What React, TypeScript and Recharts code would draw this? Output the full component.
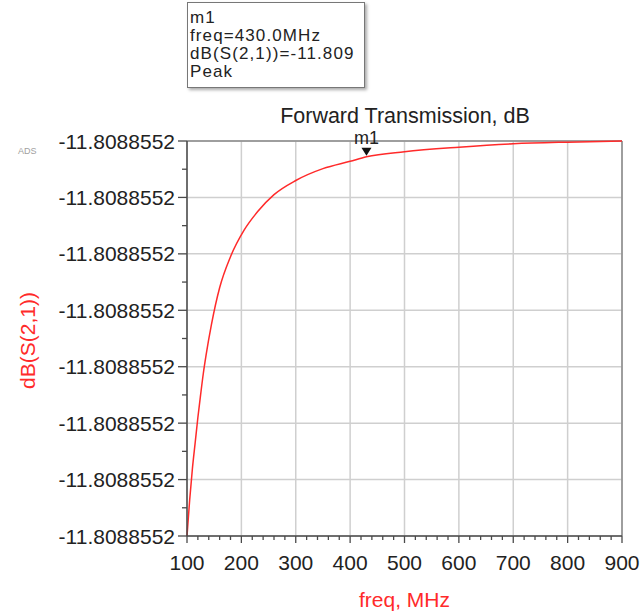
import React from "react";
import { LineChart, Line, XAxis, YAxis, CartesianGrid, ReferenceDot, ReferenceLine } from "recharts";

// frequency sweep, MHz
const freqMHz = [100, 105, 110, 115, 120, 125, 130, 135, 145, 160, 180, 205, 230, 260, 300, 350, 400, 430, 500, 600, 700, 800, 900];
// dB(S(2,1)) read as position on the axis, in tick steps above the lowest tick
// (every tick on the plot is labelled -11.8088552, the spread is below display precision)
const s21Steps = [0, 0.65, 1.2, 1.65, 2.1, 2.5, 2.88, 3.2, 3.75, 4.4, 4.95, 5.42, 5.75, 6.05, 6.3, 6.51, 6.64, 6.72, 6.81, 6.89, 6.95, 6.98, 7.0];

const xMajorTicks = [100, 200, 300, 400, 500, 600, 700, 800, 900];
const yTickLabels = [
  "-11.8088552",
  "-11.8088552",
  "-11.8088552",
  "-11.8088552",
  "-11.8088552",
  "-11.8088552",
  "-11.8088552",
  "-11.8088552",
];

const markerName = "m1";
const markerFreq = 430;
const markerFreqLabel = "430.0MHz";
const markerValueLabel = "-11.809";
const markerKind = "Peak";

const data = freqMHz.map((f, i) => ({ freq: f, s21: s21Steps[i] }));
const yMajor = yTickLabels.map((_, i) => i);
const yAllTicks = yMajor.flatMap((v) => (v < yMajor.length - 1 ? [v, v + 0.5] : [v]));
const xAllTicks: number[] = [];
for (let f = 100; f <= 900; f += 20) xAllTicks.push(f);

const FONT = "'Liberation Sans', Arial, sans-serif";
const AXIS = "#4a4a4a";
const GRID = "#cfcfcf";
const RED = "#ff2a2a";

const XTick = (props: any) => {
  const { x, y, payload } = props;
  const major = payload.value % 100 === 0;
  return (
    <g>
      <line x1={x} x2={x} y1={y} y2={y + (major ? 7 : 4)} stroke={AXIS} strokeWidth={1.3} />
      {major && (
        <text x={x} y={y + 34} textAnchor="middle" fontSize={21} fontFamily={FONT} fill="#222">
          {payload.value}
        </text>
      )}
    </g>
  );
};

const YTick = (props: any) => {
  const { x, y, payload } = props;
  const v = payload.value;
  const major = Number.isInteger(v);
  return (
    <g>
      <line x1={x - (major ? 9 : 5)} x2={x} y1={y} y2={y} stroke={AXIS} strokeWidth={1.3} />
      {major && (
        <text x={x - 12} y={y} dy="0.36em" textAnchor="end" fontSize={21} fontFamily={FONT} fill="#222">
          {yTickLabels[v]}
        </text>
      )}
    </g>
  );
};

const MarkerShape = (props: any) => {
  const { cx, cy } = props;
  return (
    <g>
      <polygon points={`${cx - 5},${cy - 9} ${cx + 5},${cy - 9} ${cx},${cy - 1}`} fill="#111" />
      <text x={cx} y={cy - 19} dy="0.36em" textAnchor="middle" fontSize={18} fontFamily={FONT} fill="#222">
        {markerName}
      </text>
    </g>
  );
};

const YLabel = (props: any) => {
  const vb = props.viewBox;
  const cx = vb.x + 27;
  const cy = vb.y + vb.height / 2 + 2;
  return (
    <text x={cx} y={cy} transform={`rotate(-90 ${cx} ${cy})`} dy="0.36em" textAnchor="middle" fontSize={21} fontFamily={FONT} fill={RED}>
      dB(S(2,1))
    </text>
  );
};

export default function App() {
  const markerY = data.find((d) => d.freq === markerFreq)?.s21 ?? 0;
  return (
    <div style={{ position: "absolute", left: 0, top: 0, width: 640, height: 615, background: "#fff", fontFamily: FONT }}>
      <LineChart width={640} height={615} data={data} margin={{ top: 141, right: 18, bottom: 0, left: 0 }}>
        <CartesianGrid stroke={GRID} strokeWidth={1.5} horizontalValues={yMajor} verticalValues={xMajorTicks} />
        <XAxis
          dataKey="freq"
          type="number"
          domain={[100, 900]}
          ticks={xAllTicks}
          interval={0}
          tick={<XTick />}
          tickLine={false}
          tickSize={0}
          tickMargin={0}
          height={79}
          axisLine={{ stroke: AXIS, strokeWidth: 1.5 }}
          label={{ value: "freq, MHz", position: "insideBottom", offset: 8, fill: RED, fontSize: 21, fontFamily: FONT }}
        />
        <YAxis
          type="number"
          domain={[0, 7]}
          ticks={yAllTicks}
          interval={0}
          tick={<YTick />}
          tickLine={false}
          tickSize={0}
          tickMargin={0}
          width={187}
          axisLine={{ stroke: AXIS, strokeWidth: 1.5 }}
          label={<YLabel />}
        />
        <ReferenceLine y={7} stroke="#8a8a8a" strokeWidth={1.5} />
        <ReferenceLine x={900} stroke="#8a8a8a" strokeWidth={1.5} />
        <Line type="monotone" dataKey="s21" stroke={RED} strokeWidth={1.5} dot={false} isAnimationActive={false} />
        <ReferenceDot x={markerFreq} y={markerY} shape={<MarkerShape />} />
      </LineChart>

      <div style={{ position: "absolute", left: 0, width: 640, top: 104, textAlign: "center", paddingLeft: 170, boxSizing: "border-box", fontSize: 21.5, color: "#222" }}>
        Forward Transmission, dB
      </div>

      <div style={{ position: "absolute", left: 18, top: 146, fontSize: 9, color: "#a0a0a0" }}>ADS</div>

      <div
        style={{
          position: "absolute",
          left: 187,
          top: 2,
          width: 178,
          height: 86,
          boxSizing: "border-box",
          border: "1.5px solid #777",
          boxShadow: "2px 2px 3px #aaa",
          padding: "6px 0 0 2px",
          fontSize: 17,
          lineHeight: "18px",
          letterSpacing: 1.1,
          color: "#222",
          background: "#fff",
        }}
      >
        <div>{markerName}</div>
        <div>freq={markerFreqLabel}</div>
        <div>dB(S(2,1))={markerValueLabel}</div>
        <div>{markerKind}</div>
      </div>
    </div>
  );
}
